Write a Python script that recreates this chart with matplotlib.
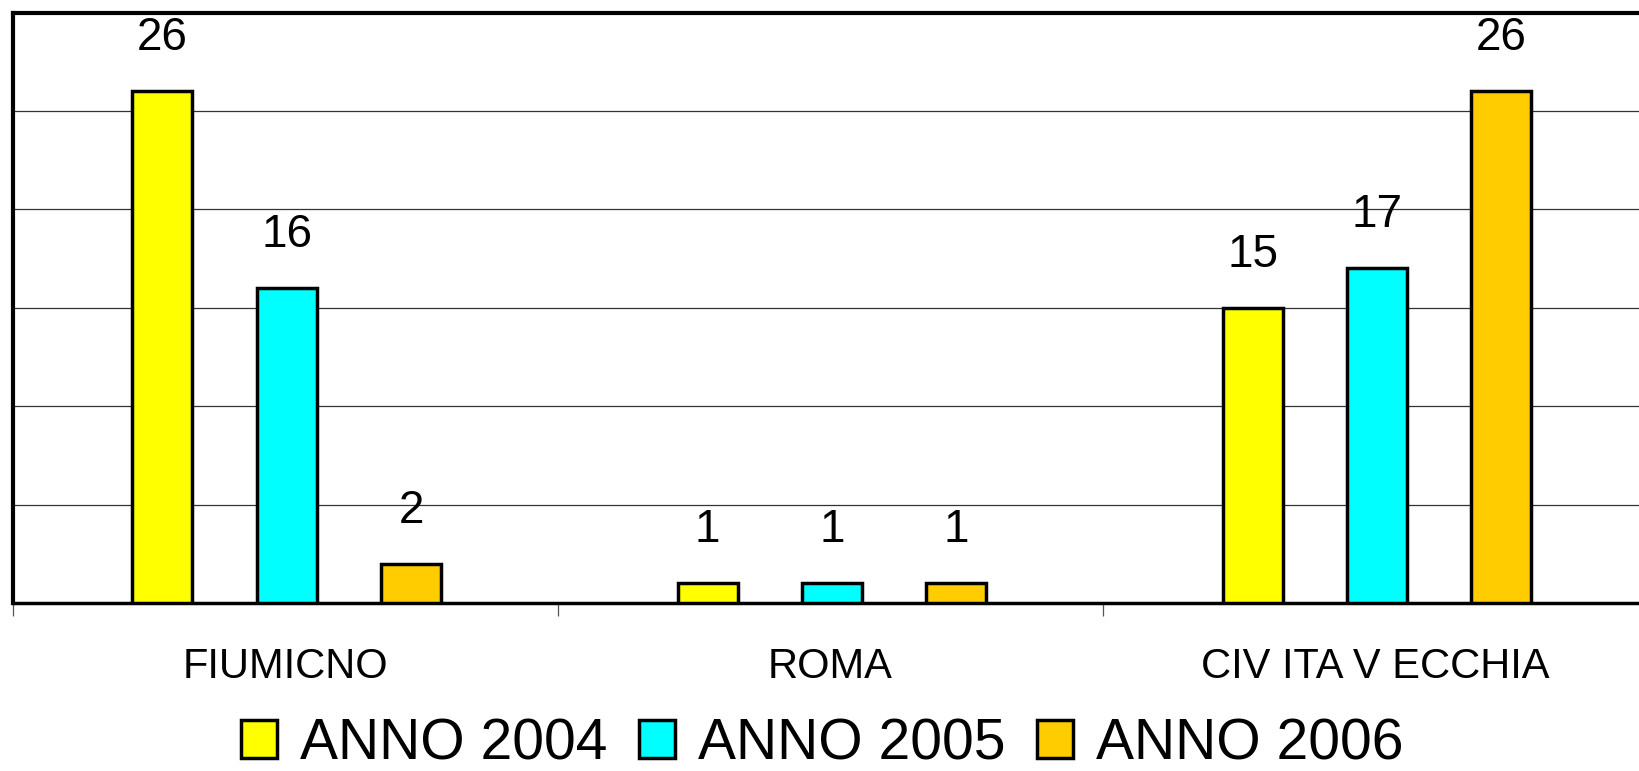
import matplotlib.pyplot as plt
import numpy as np

plt.rcParams['font.family'] = ['Liberation Sans', 'DejaVu Sans']

# dati
luoghi = ["FIUMICNO", "ROMA", "CIV ITA V ECCHIA"]
anni = ["ANNO 2004", "ANNO 2005", "ANNO 2006"]
anno_2004 = [26, 1, 15]
anno_2005 = [16, 1, 17]
anno_2006 = [2, 1, 26]
colori = ["#FFFF00", "#00FFFF", "#FFCC00"]

serie = [anno_2004, anno_2005, anno_2006]

fig = plt.figure(figsize=(16.39, 7.71), dpi=100)
ax = fig.add_axes([12.5 / 1639, 1 - 603 / 771, (1648 - 12.5) / 1639, (603 - 12.5) / 771])

x = np.arange(len(luoghi))
passo = 0.228
larg = 0.11
for j, (vals, col, nome) in enumerate(zip(serie, colori, anni)):
    pos = x + (j - 1) * passo + 0.003
    ax.bar(pos, vals, width=larg, color=col, edgecolor='black',
           linewidth=2.5, label=nome, zorder=3)
    for xx, v in zip(pos, vals):
        ax.annotate(str(v), (xx, v), xytext=(0, 29.5), textcoords='offset points',
                    ha='center', va='baseline', fontsize=33)

ax.set_xlim(-0.5, 2.5)
ax.set_ylim(0, 30)
ax.set_yticks([5, 10, 15, 20, 25])
ax.yaxis.grid(True, color='#333333', linewidth=0.9, zorder=0)
ax.tick_params(axis='y', left=False, labelleft=False)

ax.set_xticks(x)
ax.set_xticklabels(luoghi, fontsize=30)
ax.tick_params(axis='x', which='major', length=0, pad=32)
ax.set_xticks([-0.5, 0.5, 1.5], minor=True)
ax.tick_params(axis='x', which='minor', length=9, width=0.9, color='#555555')

for s in ['top', 'left']:
    ax.spines[s].set_linewidth(3)
ax.spines['bottom'].set_linewidth(2.5)
ax.spines['right'].set_visible(False)

fig.legend(loc='center', bbox_to_anchor=(822 / 1639, 1 - 744 / 771), ncol=3,
           frameon=False, fontsize=41, handlelength=0.64, handleheight=0.64,
           handletextpad=0.4, columnspacing=0.55, borderaxespad=0)

fig.savefig('out.png', dpi=100)
